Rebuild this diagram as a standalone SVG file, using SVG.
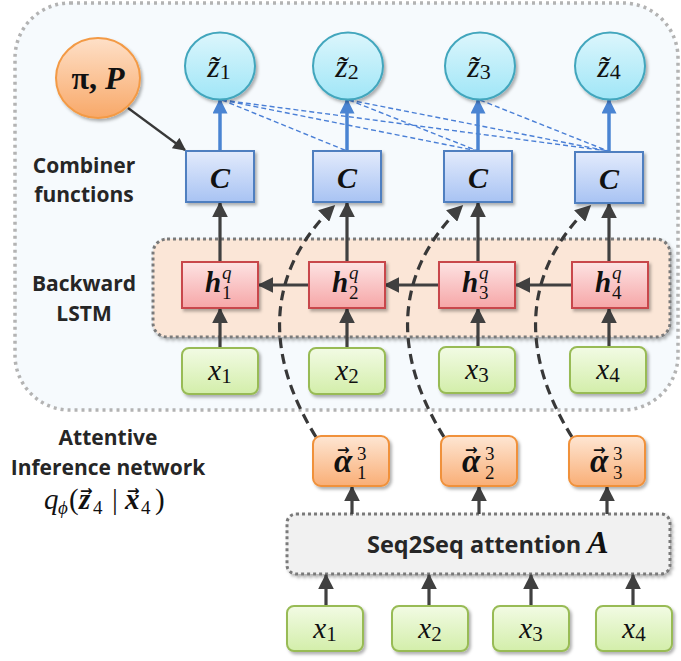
<svg xmlns="http://www.w3.org/2000/svg" width="681" height="661" viewBox="0 0 681 661">
<style>
.lbl{font-family:"Open Sans","Liberation Sans",sans-serif;font-weight:bold;font-size:21px;fill:#262626;text-anchor:middle}
.m{font-family:"Liberation Serif","DejaVu Serif",serif;fill:#111}
.it{font-style:italic}
.bi{font-style:italic;font-weight:bold}
.sub{font-size:19px;font-weight:normal}
.vec{font-family:"DejaVu Sans",sans-serif;font-size:15px;font-weight:bold;font-style:normal}
.ar{stroke:#404040;stroke-width:3.2;fill:none;marker-end:url(#ah)}
.ba{stroke:#4a84d2;stroke-width:3.5;fill:none;marker-end:url(#bh)}
.bd{stroke:#4a7fd6;stroke-width:1.4;fill:none;stroke-dasharray:5,3}
.dc{stroke:#383838;stroke-width:3.2;fill:none;stroke-dasharray:10,6;marker-end:url(#ah)}
.cbox{fill:url(#gC);stroke:#4f7fc0;stroke-width:2;filter:url(#sh)}
.hbox{fill:url(#gH);stroke:#c8464c;stroke-width:2;filter:url(#sh)}
.xbox{fill:url(#gX);stroke:#98bb55;stroke-width:2;filter:url(#sh)}
.abox{fill:url(#gA);stroke:#f0913a;stroke-width:2;filter:url(#sh)}
.zc{fill:url(#gZ);stroke:#42a6bd;stroke-width:2;filter:url(#sh)}
.zt{font-size:32px;text-anchor:middle}
.xt{font-size:29px;text-anchor:middle}
.ct{font-size:30px;text-anchor:middle}
.ht{font-size:29px}
.at{font-size:33px}
</style>
<defs>
<linearGradient id="gC" x1="0" y1="0" x2="0" y2="1"><stop offset="0" stop-color="#e3ebfc"/><stop offset="1" stop-color="#a8c3f3"/></linearGradient>
<linearGradient id="gH" x1="0" y1="0" x2="0" y2="1"><stop offset="0" stop-color="#fde3e3"/><stop offset="1" stop-color="#f6a6a7"/></linearGradient>
<linearGradient id="gX" x1="0" y1="0" x2="0" y2="1"><stop offset="0" stop-color="#f2fbe4"/><stop offset="1" stop-color="#d3eeaa"/></linearGradient>
<linearGradient id="gA" x1="0" y1="0" x2="0" y2="1"><stop offset="0" stop-color="#fee6d3"/><stop offset="1" stop-color="#f9ae76"/></linearGradient>
<linearGradient id="gZ" x1="0" y1="0" x2="0" y2="1"><stop offset="0" stop-color="#dcf6fc"/><stop offset="1" stop-color="#a0e6f7"/></linearGradient>
<linearGradient id="gP" x1="0" y1="0" x2="0" y2="1"><stop offset="0" stop-color="#fee0c8"/><stop offset="1" stop-color="#f8a868"/></linearGradient>
<filter id="sh" x="-20%" y="-20%" width="150%" height="150%"><feDropShadow dx="2" dy="2.5" stdDeviation="1.6" flood-color="#000" flood-opacity="0.3"/></filter>
<marker id="ah" viewBox="0 0 10 10" refX="9" refY="5" markerUnits="userSpaceOnUse" markerWidth="16" markerHeight="16" orient="auto"><path d="M0,0 L10,5 L0,10 z" fill="#404040"/></marker>
<marker id="ah2" viewBox="0 0 10 10" refX="9" refY="5" markerUnits="userSpaceOnUse" markerWidth="14" markerHeight="13" orient="auto"><path d="M0,0 L10,5 L0,10 z" fill="#383838"/></marker>
<marker id="bh" viewBox="0 0 10 10" refX="9" refY="5" markerUnits="userSpaceOnUse" markerWidth="16" markerHeight="15" orient="auto"><path d="M0,0 L10,5 L0,10 z" fill="#4a84d2"/></marker>
</defs>

<g id="inference-network">
<rect x="15" y="3" width="663" height="407" rx="55" fill="#f6fafd" stroke="#b3b3b3" stroke-width="3.5" stroke-dasharray="3,4"/>
</g>
<g id="backward-lstm">
<rect x="153" y="239" width="517" height="98" rx="14" fill="#fbe6d7" stroke="#7a7a7a" stroke-width="3" stroke-dasharray="3,3" filter="url(#sh)"/>
</g>
<g id="seq2seq">
<rect x="287" y="514" width="383" height="60" rx="9" fill="#f1f1f1" stroke="#7a7a7a" stroke-width="3" stroke-dasharray="3,3" filter="url(#sh)"/>
<text x="367" y="553" class="lbl" style="font-size:23.5px;text-anchor:start">Seq2Seq attention <tspan class="m bi" style="font-size:32px">A</tspan></text>
</g>

<g id="labels">
<text x="84" y="173" class="lbl">Combiner</text>
<text x="84" y="202" class="lbl">functions</text>
<text x="84" y="291" class="lbl">Backward</text>
<text x="84" y="321" class="lbl">LSTM</text>
<text x="108" y="445" class="lbl">Attentive</text>
<text x="108" y="475" class="lbl">Inference network</text>
<text class="m" style="font-size:29px"><tspan class="it" x="44" y="509">q</tspan><tspan class="sub" x="58" y="514" style="font-size:19px;font-style:italic">ϕ</tspan><tspan x="69" y="509">(</tspan><tspan class="bi" x="79" y="509">z</tspan><tspan class="vec" x="80" y="496">→</tspan><tspan class="sub" x="93" y="514" style="font-size:19px">4</tspan><tspan x="112" y="509">|</tspan><tspan class="bi" x="125" y="509">x</tspan><tspan class="vec" x="127" y="496">→</tspan><tspan class="sub" x="141" y="514" style="font-size:19px">4</tspan><tspan x="155" y="509">)</tspan></text>
</g>

<g id="connectors">
<path class="bd" d="M222,100 L347,151 M222,100 L478,151 M222,100 L608,151 M349,100 L478,151 M349,100 L608,151 M480,100 L608,151"/>
<path class="ba" d="M220,151 V100"/>
<path class="ba" d="M347,151 V100"/>
<path class="ba" d="M478,151 V100"/>
<path class="ba" d="M609,151 V100"/>
<path d="M128,108 L185,150" stroke="#383838" stroke-width="2.2" fill="none" marker-end="url(#ah2)"/>
<path class="ar" d="M220,262 V203"/>
<path class="ar" d="M347,262 V203"/>
<path class="ar" d="M478,262 V203"/>
<path class="ar" d="M609,262 V204"/>
<path class="ar" d="M308,285 H259"/>
<path class="ar" d="M438,285 H385"/>
<path class="ar" d="M571,285 H516"/>
<path class="ar" d="M220,348 V309"/>
<path class="ar" d="M347,348 V309"/>
<path class="ar" d="M478,347 V309"/>
<path class="ar" d="M609,347 V309"/>
<path class="ar" d="M326,606 V575"/>
<path class="ar" d="M429,606 V575"/>
<path class="ar" d="M531,606 V575"/>
<path class="ar" d="M633,606 V575"/>
<path class="ar" d="M352,514 V487"/>
<path class="ar" d="M479,514 V487"/>
<path class="ar" d="M607,514 V487"/>
<path class="dc" d="M316,437 C262,350 268,270 334,206"/>
<path class="dc" d="M444,437 C390,350 396,270 462,206"/>
<path class="dc" d="M572,437 C518,350 524,270 590,206"/>
</g>

<g id="pi-P">
<ellipse cx="98" cy="78" rx="42" ry="40" fill="url(#gP)" stroke="#f39a45" stroke-width="2" filter="url(#sh)"/>
<text x="98" y="89" class="m" style="font-size:32px;text-anchor:middle;font-weight:bold"><tspan>π</tspan><tspan>, </tspan><tspan class="bi">P</tspan></text>
</g>

<g id="z1"><ellipse class="zc" cx="220" cy="66" rx="35" ry="33.5"/><text x="219" y="77" class="m zt"><tspan class="it">z̃</tspan><tspan class="sub" dy="2" style="font-size:22px">1</tspan></text></g>
<g id="z2"><ellipse class="zc" cx="348" cy="66" rx="35" ry="33.5"/><text x="347" y="77" class="m zt"><tspan class="it">z̃</tspan><tspan class="sub" dy="2" style="font-size:22px">2</tspan></text></g>
<g id="z3"><ellipse class="zc" cx="480" cy="66" rx="35" ry="33.5"/><text x="479" y="77" class="m zt"><tspan class="it">z̃</tspan><tspan class="sub" dy="2" style="font-size:22px">3</tspan></text></g>
<g id="z4"><ellipse class="zc" cx="610" cy="66" rx="35" ry="33.5"/><text x="609" y="77" class="m zt"><tspan class="it">z̃</tspan><tspan class="sub" dy="2" style="font-size:22px">4</tspan></text></g>

<g id="C1"><rect class="cbox" x="186" y="151" width="68" height="51"/><text x="220" y="188" class="m bi ct">C</text></g>
<g id="C2"><rect class="cbox" x="313" y="151" width="68" height="51"/><text x="347" y="188" class="m bi ct">C</text></g>
<g id="C3"><rect class="cbox" x="444" y="151" width="68" height="51"/><text x="478" y="188" class="m bi ct">C</text></g>
<g id="C4"><rect class="cbox" x="575" y="152" width="68" height="51"/><text x="609" y="189" class="m bi ct">C</text></g>

<g id="h1"><rect class="hbox" x="182" y="262" width="76" height="46"/><text class="m ht"><tspan class="bi" x="205" y="292">h</tspan><tspan class="sub" x="222" y="279" style="font-style:italic">q</tspan><tspan class="sub" x="222" y="299">1</tspan></text></g>
<g id="h2"><rect class="hbox" x="309" y="262" width="76" height="46"/><text class="m ht"><tspan class="bi" x="332" y="292">h</tspan><tspan class="sub" x="349" y="279" style="font-style:italic">q</tspan><tspan class="sub" x="349" y="299">2</tspan></text></g>
<g id="h3"><rect class="hbox" x="439" y="262" width="76" height="46"/><text class="m ht"><tspan class="bi" x="462" y="292">h</tspan><tspan class="sub" x="479" y="279" style="font-style:italic">q</tspan><tspan class="sub" x="479" y="299">3</tspan></text></g>
<g id="h4"><rect class="hbox" x="572" y="262" width="76" height="46"/><text class="m ht"><tspan class="bi" x="595" y="292">h</tspan><tspan class="sub" x="612" y="279" style="font-style:italic">q</tspan><tspan class="sub" x="612" y="299">4</tspan></text></g>

<g id="x1-top"><rect class="xbox" x="182" y="348" width="76" height="46" rx="7"/><text x="220" y="380" class="m xt"><tspan class="it">x</tspan><tspan class="sub" dy="3" style="font-size:21px">1</tspan></text></g>
<g id="x2-top"><rect class="xbox" x="309" y="348" width="76" height="46" rx="7"/><text x="347" y="380" class="m xt"><tspan class="it">x</tspan><tspan class="sub" dy="3" style="font-size:21px">2</tspan></text></g>
<g id="x3-top"><rect class="xbox" x="439" y="347" width="76" height="46" rx="7"/><text x="477" y="379" class="m xt"><tspan class="it">x</tspan><tspan class="sub" dy="3" style="font-size:21px">3</tspan></text></g>
<g id="x4-top"><rect class="xbox" x="570" y="347" width="76" height="46" rx="7"/><text x="608" y="379" class="m xt"><tspan class="it">x</tspan><tspan class="sub" dy="3" style="font-size:21px">4</tspan></text></g>

<g id="alpha1"><rect class="abox" x="313" y="436" width="76" height="50" rx="8"/><text class="m at"><tspan class="bi" x="334" y="472">α</tspan><tspan class="vec" x="337" y="455">→</tspan><tspan class="sub" x="357" y="460">3</tspan><tspan class="sub" x="357" y="479">1</tspan></text></g>
<g id="alpha2"><rect class="abox" x="441" y="436" width="76" height="50" rx="8"/><text class="m at"><tspan class="bi" x="462" y="472">α</tspan><tspan class="vec" x="465" y="455">→</tspan><tspan class="sub" x="485" y="460">3</tspan><tspan class="sub" x="485" y="479">2</tspan></text></g>
<g id="alpha3"><rect class="abox" x="569" y="436" width="76" height="50" rx="8"/><text class="m at"><tspan class="bi" x="590" y="472">α</tspan><tspan class="vec" x="593" y="455">→</tspan><tspan class="sub" x="613" y="460">3</tspan><tspan class="sub" x="613" y="479">3</tspan></text></g>

<g id="x1-bottom"><rect class="xbox" x="287" y="606" width="76" height="45" rx="7"/><text x="325" y="638" class="m xt"><tspan class="it">x</tspan><tspan class="sub" dy="3" style="font-size:21px">1</tspan></text></g>
<g id="x2-bottom"><rect class="xbox" x="392" y="606" width="76" height="45" rx="7"/><text x="430" y="638" class="m xt"><tspan class="it">x</tspan><tspan class="sub" dy="3" style="font-size:21px">2</tspan></text></g>
<g id="x3-bottom"><rect class="xbox" x="493" y="606" width="76" height="45" rx="7"/><text x="531" y="638" class="m xt"><tspan class="it">x</tspan><tspan class="sub" dy="3" style="font-size:21px">3</tspan></text></g>
<g id="x4-bottom"><rect class="xbox" x="596" y="606" width="76" height="45" rx="7"/><text x="634" y="638" class="m xt"><tspan class="it">x</tspan><tspan class="sub" dy="3" style="font-size:21px">4</tspan></text></g>
</svg>
